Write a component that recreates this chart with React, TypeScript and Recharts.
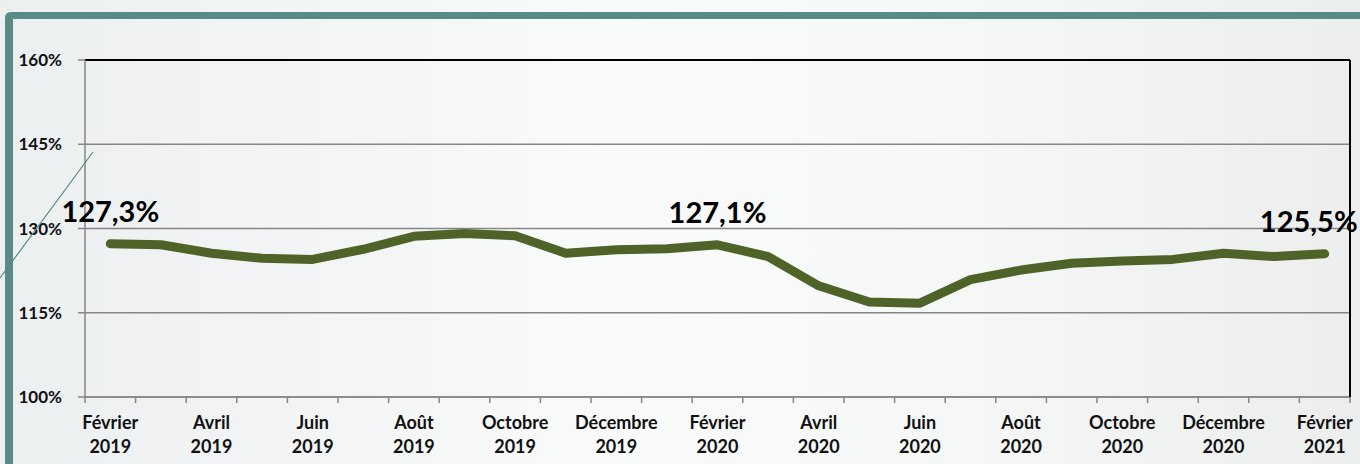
import React from 'react'
import {
  LineChart,
  Line,
  XAxis,
  YAxis,
  CartesianGrid,
  ReferenceLine,
  LabelList,
} from 'recharts'

// Taux mensuel, février 2019 -> février 2021
const monthNames = [
  'Février', 'Mars', 'Avril', 'Mai', 'Juin', 'Juillet', 'Août', 'Septembre',
  'Octobre', 'Novembre', 'Décembre', 'Janvier',
  'Février', 'Mars', 'Avril', 'Mai', 'Juin', 'Juillet', 'Août', 'Septembre',
  'Octobre', 'Novembre', 'Décembre', 'Janvier',
  'Février',
]
const years = [
  '2019', '2019', '2019', '2019', '2019', '2019', '2019', '2019', '2019', '2019', '2019', '2020',
  '2020', '2020', '2020', '2020', '2020', '2020', '2020', '2020', '2020', '2020', '2020', '2021',
  '2021',
]
const values = [
  127.3, 127.1, 125.6, 124.7, 124.5, 126.3, 128.6, 129.1, 128.7, 125.6, 126.2, 126.4,
  127.1, 125.0, 119.8, 116.9, 116.7, 120.9, 122.6, 123.8, 124.2, 124.5, 125.6, 125.0,
  125.5,
]
const labelledIdx = [0, 12, 24]
const yTicks = [100, 115, 130, 145, 160]

const FONT = 'Lato, "Open Sans", sans-serif'
const LINE_COLOR = '#4f6228'
const AXIS_GRAY = '#868686'
const TEAL = '#5a8a86'

const data = values.map((v, i) => ({ idx: i, value: v }))

// tick marks sit between months, labels every other month
const xTicks: number[] = []
for (let i = 0; i < values.length; i++) {
  xTicks.push(i - 0.5, i)
}
xTicks.push(values.length - 0.5)

const pct = (v: number) => `${v.toFixed(1).replace('.', ',')}%`

function MonthTick(props: any) {
  const { x, y, payload } = props
  const v = payload.value as number
  if (!Number.isInteger(v)) {
    return <line x1={x} x2={x} y1={y} y2={y + 6} stroke={AXIS_GRAY} strokeWidth={1.5} />
  }
  if (v % 2 !== 0) return <g />
  return (
    <text
      x={x}
      y={y}
      textAnchor="middle"
      fontFamily={FONT}
      fontWeight={700}
      fontSize={18}
      fill="#111"
    >
      <tspan x={x} dy={32}>{monthNames[v]}</tspan>
      <tspan x={x} dy={24}>{years[v]}</tspan>
    </text>
  )
}

function ValueLabel(props: any) {
  const { x, y, value, index } = props
  if (!labelledIdx.includes(index)) return null
  // the last label is pushed against the right edge
  const last = index === values.length - 1
  return (
    <text
      x={last ? x + 33 : x}
      y={y - 22}
      textAnchor={last ? 'end' : 'middle'}
      fontFamily={FONT}
      fontWeight={700}
      fontSize={29}
      fill="#000"
    >
      {pct(value)}
    </text>
  )
}

export default function App() {
  return (
    <div
      style={{
        position: 'absolute',
        left: 0,
        top: 0,
        width: 1360,
        height: 464,
        overflow: 'hidden',
        background: 'linear-gradient(90deg, #eceff0 0%, #f9fafa 45%, #f6f7f7 70%, #eceeee 100%)',
      }}
    >
      <LineChart
        width={1360}
        height={464}
        data={data}
        margin={{ top: 60, right: 0, bottom: 0, left: 0 }}
      >
        <CartesianGrid vertical={false} stroke={AXIS_GRAY} strokeWidth={1.5} />
        <XAxis
          dataKey="idx"
          type="number"
          domain={[-0.5, values.length - 0.5]}
          ticks={xTicks}
          interval={0}
          height={67}
          tickSize={0}
          tickMargin={0}
          tickLine={false}
          axisLine={{ stroke: AXIS_GRAY, strokeWidth: 1.5 }}
          tick={<MonthTick />}
        />
        <YAxis
          domain={[100, 160]}
          ticks={yTicks}
          width={85}
          tickSize={7}
          tickMargin={16}
          tickFormatter={(v: number) => `${v}%`}
          axisLine={{ stroke: AXIS_GRAY, strokeWidth: 1.5 }}
          tickLine={{ stroke: AXIS_GRAY, strokeWidth: 1.5 }}
          tick={{ fontFamily: FONT, fontWeight: 700, fontSize: 17, fill: '#111' }}
        />
        <YAxis
          yAxisId="r"
          orientation="right"
          domain={[100, 160]}
          width={10}
          tick={false}
          tickLine={false}
          axisLine={{ stroke: '#000', strokeWidth: 2 }}
        />
        <ReferenceLine y={160} stroke="#000" strokeWidth={2} />
        <Line
          type="linear"
          dataKey="value"
          stroke={LINE_COLOR}
          strokeWidth={9}
          strokeLinecap="round"
          strokeLinejoin="round"
          dot={false}
          isAnimationActive={false}
        >
          <LabelList dataKey="value" content={<ValueLabel />} />
        </Line>
      </LineChart>
      <svg
        width={1360}
        height={464}
        style={{ position: 'absolute', left: 0, top: 0, pointerEvents: 'none' }}
      >
        <path d="M5,464 L5,18 Q5,12 11,12 L1360,12 L1360,19 L13,19 L13,464 Z" fill={TEAL} />
        <line x1={0} y1={278} x2={93} y2={152} stroke={TEAL} strokeWidth={1.2} />
      </svg>
    </div>
  )
}
